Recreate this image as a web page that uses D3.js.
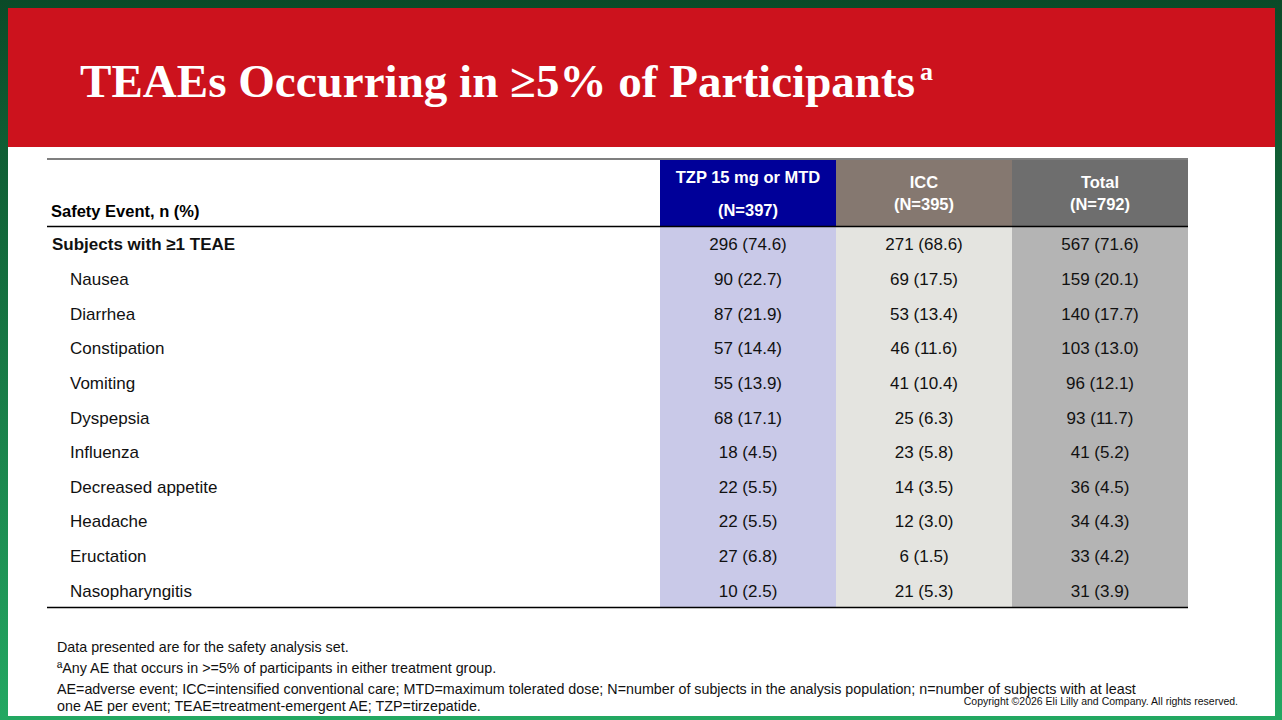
<!DOCTYPE html>
<html><head><meta charset="utf-8">
<script src="https://cdn.jsdelivr.net/npm/d3@7"></script>
<style>body{margin:0;background:#fff}svg{display:block}</style>
</head><body>
<script>
const events = ["Subjects with ≥1 TEAE","Nausea","Diarrhea","Constipation","Vomiting","Dyspepsia","Influenza","Decreased appetite","Headache","Eructation","Nasopharyngitis"];
const tzpN = [296,90,87,57,55,68,18,22,22,27,10];
const tzpPct = ["74.6","22.7","21.9","14.4","13.9","17.1","4.5","5.5","5.5","6.8","2.5"];
const iccN = [271,69,53,46,41,25,23,14,12,6,21];
const iccPct = ["68.6","17.5","13.4","11.6","10.4","6.3","5.8","3.5","3.0","1.5","5.3"];
const totN = [567,159,140,103,96,93,41,36,34,33,31];
const totPct = ["71.6","20.1","17.7","13.0","12.1","11.7","5.2","4.5","4.3","4.2","3.9"];
const groups = ["TZP 15 mg or MTD","ICC","Total"];
const groupN = ["(N=397)","(N=395)","(N=792)"];
const footnotes = ["Data presented are for the safety analysis set.","ªAny AE that occurs in >=5% of participants in either treatment group.","AE=adverse event; ICC=intensified conventional care; MTD=maximum tolerated dose; N=number of subjects in the analysis population; n=number of subjects with at least","one AE per event; TEAE=treatment-emergent AE; TZP=tirzepatide."];

const W=1282,H=720;
const svg=d3.select("body").append("svg").attr("width",W).attr("height",H);
const defs=svg.append("defs");
const g=defs.append("linearGradient").attr("id","bg").attr("x1",0).attr("y1",0).attr("x2",0).attr("y2",1);
g.append("stop").attr("offset","0").attr("stop-color","#0b4a28");
g.append("stop").attr("offset","1").attr("stop-color","#23a862");
svg.append("rect").attr("width",W).attr("height",H).attr("fill","url(#bg)");
svg.append("rect").attr("x",8).attr("y",8).attr("width",1267).attr("height",708).attr("fill","#fff");
svg.append("rect").attr("x",8).attr("y",8).attr("width",1267).attr("height",139).attr("fill","#cc121d");
const t=svg.append("text").attr("x",80).attr("y",97).attr("fill","#fff")
 .attr("font-family","Liberation Serif, Times New Roman, serif").attr("font-weight","bold").attr("font-size",47)
 .attr("textLength",835).attr("lengthAdjust","spacingAndGlyphs")
 .text("TEAEs Occurring in ≥5% of Participants");
svg.append("text").attr("x",920).attr("y",80).attr("fill","#fff").attr("font-family","Liberation Serif, serif").attr("font-weight","bold").attr("font-size",26).text("a");

const x=d3.scaleBand().domain(groups).range([660,1188]);
const y=d3.scaleBand().domain(events).range([227,608]);
const headFill=["#000099","#857870","#6e6e6e"];
const bodyFill=["#c9c9e8","#e4e4e0","#b4b4b4"];
const font="Liberation Sans, Arial, sans-serif";
groups.forEach((gr,i)=>{
  svg.append("rect").attr("x",x(gr)).attr("y",160).attr("width",x.bandwidth()).attr("height",66).attr("fill",headFill[i]);
  svg.append("rect").attr("x",x(gr)).attr("y",227).attr("width",x.bandwidth()).attr("height",380).attr("fill",bodyFill[i]);
  const cx=x(gr)+x.bandwidth()/2;
  const ys=i===0?[183,216]:[188,210];
  svg.append("text").attr("x",cx).attr("y",ys[0]).attr("text-anchor","middle").attr("fill","#fff").attr("font-family",font).attr("font-weight","bold").attr("font-size",16.5).text(gr);
  svg.append("text").attr("x",cx).attr("y",ys[1]).attr("text-anchor","middle").attr("fill","#fff").attr("font-family",font).attr("font-weight","bold").attr("font-size",16.5).text(groupN[i]);
});
svg.append("line").attr("x1",47).attr("x2",1188).attr("y1",159).attr("y2",159).attr("stroke","#000").attr("stroke-width",1.2);
svg.append("line").attr("x1",47).attr("x2",1188).attr("y1",226.5).attr("y2",226.5).attr("stroke","#000").attr("stroke-width",1.4);
svg.append("line").attr("x1",47).attr("x2",1188).attr("y1",607.5).attr("y2",607.5).attr("stroke","#000").attr("stroke-width",1.4);
svg.append("text").attr("x",51).attr("y",217).attr("font-family",font).attr("font-weight","bold").attr("font-size",16.5).text("Safety Event, n (%)");
const cols=[[tzpN,tzpPct],[iccN,iccPct],[totN,totPct]];
events.forEach((e,r)=>{
  const cy=y(e)+y.bandwidth()/2+6;
  svg.append("text").attr("x",r===0?52:70).attr("y",cy).attr("font-family",font).attr("font-weight",r===0?"bold":"normal").attr("font-size",17).attr("fill","#111").text(e);
  cols.forEach((c,i)=>{
    svg.append("text").attr("x",x(groups[i])+x.bandwidth()/2).attr("y",cy).attr("text-anchor","middle").attr("font-family",font).attr("font-size",17).attr("fill","#111").text(`${c[0][r]} (${c[1][r]})`);
  });
});
const fy=[652,673,694,711];
footnotes.forEach((f,i)=>{
  svg.append("text").attr("x",57).attr("y",fy[i]).attr("font-family",font).attr("font-size",14.3).attr("fill","#111").text(f);
});
svg.append("text").attr("x",1238).attr("y",705).attr("text-anchor","end").attr("font-family","Liberation Sans Narrow, Liberation Sans, sans-serif").attr("font-size",10.5).attr("fill","#111").text("Copyright ©2026 Eli Lilly and Company. All rights reserved.");
</script>
</body></html>
